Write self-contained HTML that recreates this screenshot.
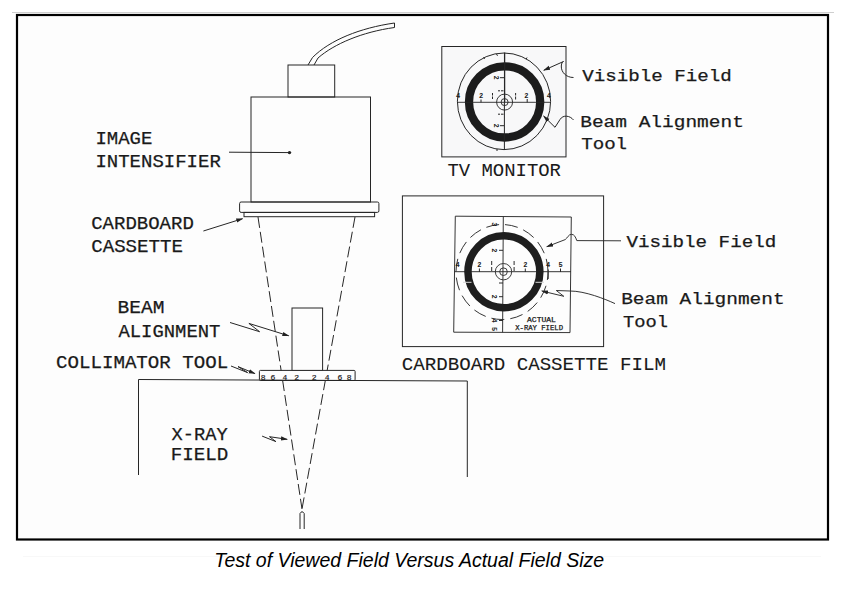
<!DOCTYPE html>
<html><head><meta charset="utf-8">
<style>
html,body{margin:0;padding:0;background:#fff;}
body{width:844px;height:596px;overflow:hidden;position:relative;}
svg{position:absolute;left:0;top:0;}
.m{font-family:"Liberation Mono",monospace;fill:#1a1a1a;}
.L{stroke:#1a1a1a;stroke-width:0.25;}
.cap{font-family:"Liberation Sans",sans-serif;font-style:italic;fill:#000;}
</style></head>
<body>
<svg width="844" height="596" viewBox="0 0 844 596">
<defs>
<marker id="ar" viewBox="0 0 10 10" refX="9" refY="5" markerWidth="7" markerHeight="7" orient="auto" markerUnits="userSpaceOnUse">
<path d="M0,2 L10,5 L0,8 z" fill="#222"/>
</marker>
</defs>
<!-- top grey rule -->
<line x1="12" y1="12.5" x2="834" y2="12.5" stroke="#cfcfcf" stroke-width="1"/>
<!-- frame -->
<rect x="17" y="15" width="811" height="524.5" fill="#fdfdfd" stroke="#000" stroke-width="2.2"/>
<line x1="23" y1="556.5" x2="821" y2="556.5" stroke="#f8f8f8" stroke-width="1"/>

<g fill="none" stroke="#262626" stroke-width="1">
<!-- cable -->
<path d="M308,65 L312.5,57.5 C330,40 360,28 394.5,23 L394.5,27.5 C362,32 334,44 318,58 L314,65"/>
<!-- small box -->
<rect x="288" y="65" width="46.7" height="32"/>
<!-- big box -->
<rect x="251" y="97" width="119.5" height="105"/>
<!-- flange -->
<rect x="239.6" y="202" width="139.3" height="10.4" rx="1.5"/>
<!-- cassette -->
<rect x="244" y="212.4" width="130.6" height="4.3"/>
<!-- leader intensifier -->
<line x1="229" y1="152.2" x2="289.5" y2="152.6"/>
</g>
<circle cx="289.5" cy="152.6" r="1.7" fill="#222"/>

<g fill="none" stroke="#262626" stroke-width="1">
<!-- cardboard leader -->
<line x1="203.4" y1="231" x2="242.6" y2="218.7" marker-end="url(#ar)"/>
<!-- beam dashed lines -->
<line x1="258" y1="217" x2="302" y2="509" stroke-dasharray="11 4"/>
<line x1="355" y1="217" x2="302" y2="509" stroke-dasharray="11 4"/>
<!-- x-ray source -->
<path d="M300,529 L300,513.5 Q302,510 304.2,513.5 L304.2,529"/>
<!-- beam alignment tool -->
<rect x="292" y="308" width="30.6" height="62.6"/>
<!-- collimator -->
<rect x="259.4" y="370.4" width="95.7" height="10.1" rx="1" fill="#fdfdfd"/>
<!-- table -->
<path d="M138.5,475 L138.5,379.5 L467.3,381 L467.3,477"/>
<!-- leaders -->
<polyline points="230,322.5 259.6,331.7 248.9,323.4 288.7,335.8" marker-end="url(#ar)"/>
<polyline points="231,366 247.6,372.6 238,366.6 254.9,373.6" marker-end="url(#ar)"/>
<polyline points="262.1,436.1 275.9,441.6 269.5,436.7 287.2,439.3" marker-end="url(#ar)"/>
</g>

<!-- left labels -->
<g class="m L" font-size="17.5">
<text x="95.4" y="144.1" textLength="57.0" lengthAdjust="spacingAndGlyphs">IMAGE</text>
<text x="95.4" y="167.3" textLength="125.4" lengthAdjust="spacingAndGlyphs">INTENSIFIER</text>
<text x="91.2" y="228.6" textLength="102.6" lengthAdjust="spacingAndGlyphs">CARDBOARD</text>
<text x="91.2" y="252.4" textLength="91.8" lengthAdjust="spacingAndGlyphs">CASSETTE</text>
<text x="117.4" y="313.4" textLength="47.0" lengthAdjust="spacingAndGlyphs">BEAM</text>
<text x="118.4" y="336.8" textLength="102.0" lengthAdjust="spacingAndGlyphs">ALIGNMENT</text>
<text x="56.0" y="367.6" textLength="172.2" lengthAdjust="spacingAndGlyphs">COLLIMATOR TOOL</text>
<text x="171.6" y="439.7" textLength="56.0" lengthAdjust="spacingAndGlyphs">X-RAY</text>
<text x="170.8" y="460.3" textLength="57.5" lengthAdjust="spacingAndGlyphs">FIELD</text>
</g>
<g class="m" font-size="8" text-anchor="middle" stroke="#1a1a1a" stroke-width="0.2">
<text x="263.1" y="380">8</text><text x="273" y="380">6</text><text x="284.9" y="380">4</text><text x="296.7" y="380">2</text><text x="314.1" y="380">2</text><text x="327.1" y="380">4</text><text x="340" y="380">6</text><text x="349.2" y="380">8</text>
</g>

<!-- TV monitor -->
<g fill="none" stroke="#262626" stroke-width="1">
<rect x="441.8" y="46.5" width="124.2" height="110.4" fill="#f8f8f9"/>
<ellipse cx="504" cy="101.3" rx="46.6" ry="48.3" stroke-width="1"/>
<circle cx="504.6" cy="101.9" r="35.6" stroke="#1c1c1c" stroke-width="8.3"/>
<line x1="504.6" y1="52.6" x2="504.6" y2="102" stroke-width="1.3"/><line x1="504.4" y1="102" x2="504.4" y2="150" stroke-width="1"/>
<line x1="457" y1="102.3" x2="550" y2="102.3" stroke-width="0.9"/>
<circle cx="504.6" cy="102.1" r="8" stroke-width="0.9"/>
<circle cx="504.6" cy="102.1" r="3.5" stroke-width="0.9"/>
<!-- ticks -->
<path d="M481,99.5 V102.4 M492.5,93 V95.5 M492.5,96.5 V99 M515.6,93 V95.5 M515.6,96.5 V99.5 M527.2,99 V102.4 M500,77.7 H504 M498,90.8 H500 M501,90.8 H503.5 M498,114.2 H500 M501,114.2 H503.5 M500,125.7 H504 M483.5,57.2 l1.2,1.6 M496.5,54 l1,1.8 M527,57.5 l-0.8,1.5 M497,149 v2" stroke-width="1"/>
<!-- leaders -->
<path d="M573.5,77.5 C566,77.5 561,72 561.3,66 C561.5,63 562.5,61.8 563.5,61.5 L543.8,70.3" marker-end="url(#ar)"/>
<path d="M573.5,120 C570,115.5 563,114.5 560,119.5 L555,127.3 L543.6,116" marker-end="url(#ar)"/>
</g>
<g class="m" font-size="7" text-anchor="middle" font-weight="bold">
<text x="458" y="97.5">4</text><text x="481" y="97.5">2</text>
<text x="526.4" y="97.5">2</text><text x="548.9" y="97.5">4</text>
</g>
<g class="m" font-size="7" text-anchor="middle" font-weight="bold">
<text transform="translate(496,77.7) rotate(90)" y="2.5">2</text>
<text transform="translate(496,125.7) rotate(90)" y="2.5">2</text>
</g>
<g class="m L" font-size="17.5">
<text x="582.2" y="80.7" font-size="16.5" textLength="149.6" lengthAdjust="spacingAndGlyphs">Visible Field</text>
<text x="580.2" y="126.5" font-size="16.5" textLength="163.7" lengthAdjust="spacingAndGlyphs">Beam Alignment</text>
<text x="581.2" y="149.3" font-size="16.5" textLength="45.9" lengthAdjust="spacingAndGlyphs">Tool</text>
<text x="447.4" y="176.3" font-size="19" textLength="113.6" lengthAdjust="spacingAndGlyphs" stroke-width="0.05">TV MONITOR</text>
</g>

<!-- Cassette film -->
<g fill="none" stroke="#262626" stroke-width="1">
<rect x="402.4" y="195.9" width="201.2" height="150.7"/>
</g>
<g fill="none" stroke="#2a2a2a" stroke-width="0.95">
<path d="M455.3,216.2 L571.3,217 L570,332.6 L453.7,332.2 Z"/>
<line x1="503.3" y1="216.5" x2="502.6" y2="332.4"/>
<line x1="454.5" y1="271.7" x2="571" y2="271.7"/>
<ellipse cx="502" cy="272" rx="46" ry="47.5" stroke-dasharray="13 6" stroke-dashoffset="5"/>
<circle cx="503.9" cy="271.8" r="35.95" stroke="#1e1e1e" stroke-width="7.5"/>
<circle cx="503.5" cy="271.7" r="8.2" stroke-width="0.9"/>
<circle cx="503.5" cy="271.7" r="3.8" stroke-width="0.9"/>
<path d="M479.4,268.5 V272 M491.7,261 V265 M491.7,267 V271 M514.1,261 V265 M514.1,267 V271 M525.3,268.5 V272 M560.5,268.5 V272 M548.2,269.5 V279 M499,250.3 H503 M499,283 H503 M499,296.7 H503 M499,320.5 H503" stroke-width="1"/>
<path d="M621,240.8 L576.8,240.6 C575.5,237 574.5,234.5 571.5,234.3 C568.5,234.3 567.5,238 565.2,239.6 L546.8,246.7" marker-end="url(#ar)"/>
<path d="M615,303.6 C605,299 585,291 570,291 L556.3,290.5 L563.8,296.3 L541.8,291" marker-end="url(#ar)"/>
</g>
<path d="M463,282.3 H471.5 M535.5,282.3 H544" stroke="#d8d8d8" stroke-width="1"/>
<g class="m" font-size="7" text-anchor="middle" font-weight="bold">
<text x="457.5" y="267">4</text><text x="479.4" y="267">2</text>
<text x="525.3" y="267">2</text><text x="548.2" y="267">4</text><text x="560.5" y="267">5</text>
</g>
<g class="m" font-size="7" text-anchor="middle" font-weight="bold">
<text transform="translate(494.5,224.3) rotate(90)" y="2.5">3</text>
<text transform="translate(494.5,250.3) rotate(90)" y="2.5">2</text>
<text transform="translate(494.5,296.7) rotate(90)" y="2.5">2</text>
<text transform="translate(494.5,320.5) rotate(90)" y="2.5">4</text>
<text transform="translate(494.5,329) rotate(90)" y="2.5">5</text>
</g>
<g font-family="Liberation Mono" font-size="7" fill="#1a1a1a" stroke="#1a1a1a" stroke-width="0.25">
<text x="527" y="321.6" textLength="28.9" lengthAdjust="spacingAndGlyphs">ACTUAL</text>
<text x="515.2" y="330.1" textLength="47.8" lengthAdjust="spacingAndGlyphs">X-RAY FIELD</text>
</g>
<g class="m L" font-size="17.5">
<text x="626.5" y="247.4" font-size="16.5" textLength="149.7" lengthAdjust="spacingAndGlyphs">Visible Field</text>
<text x="621.2" y="303.9" font-size="16.5" textLength="163.4" lengthAdjust="spacingAndGlyphs">Beam Alignment</text>
<text x="623.0" y="327.0" font-size="16.5" textLength="45.1" lengthAdjust="spacingAndGlyphs">Tool</text>
<text x="401.8" y="370.3" textLength="264.2" lengthAdjust="spacingAndGlyphs" stroke-width="0.1">CARDBOARD CASSETTE FILM</text>
</g>

<!-- caption -->
<text class="cap" x="214.3" y="566.6" font-size="19.5">Test of Viewed Field Versus Actual Field Size</text>
</svg>
</body></html>
